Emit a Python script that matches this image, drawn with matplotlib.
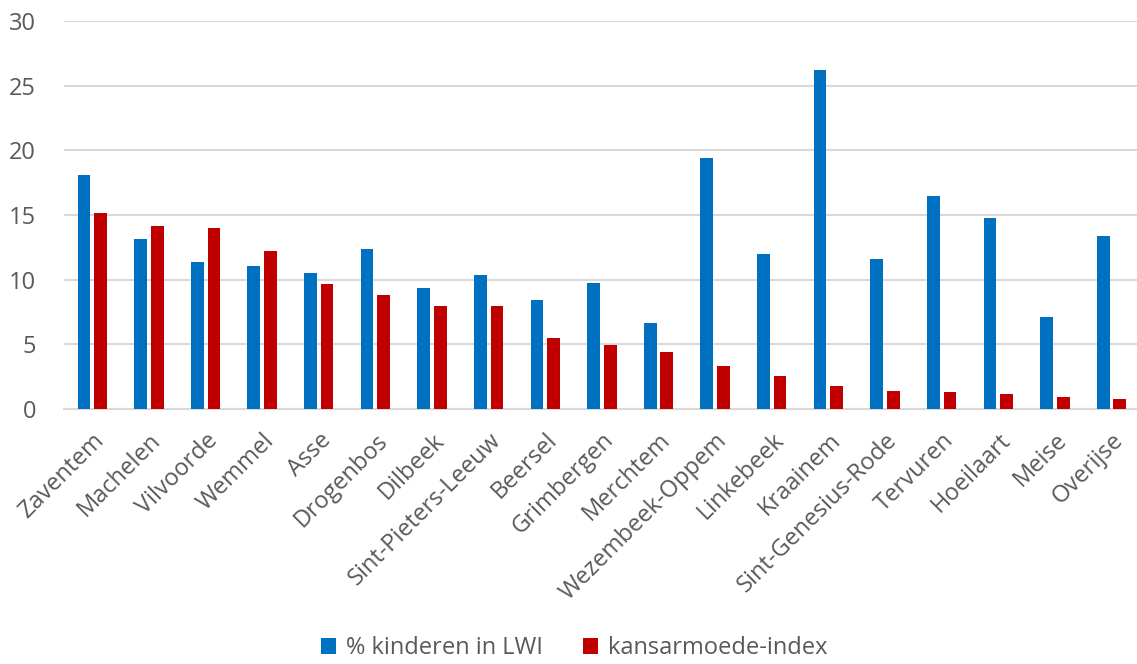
import matplotlib.pyplot as plt
import numpy as np

gemeenten = ["Zaventem", "Machelen", "Vilvoorde", "Wemmel", "Asse", "Drogenbos",
             "Dilbeek", "Sint-Pieters-Leeuw", "Beersel", "Grimbergen", "Merchtem",
             "Wezembeek-Oppem", "Linkebeek", "Kraainem", "Sint-Genesius-Rode",
             "Tervuren", "Hoeilaart", "Meise", "Overijse"]
pct_lwi = [18.07, 13.15, 11.39, 11.08, 10.52, 12.35, 9.32, 10.38, 8.39, 9.73,
           6.67, 19.43, 11.95, 26.24, 11.62, 16.5, 14.73, 7.08, 13.4]
kansarmoede = [15.16, 14.13, 14.02, 12.22, 9.67, 8.82, 8.0, 8.0, 5.48, 4.96,
               4.42, 3.36, 2.55, 1.81, 1.42, 1.34, 1.19, 0.96, 0.80]

plt.rcParams['font.family'] = ['Open Sans', 'DejaVu Sans']
grey = '#595959'

fig = plt.figure(figsize=(11.37, 6.64), dpi=100)
ax = fig.add_axes([64 / 1137, 1 - 409 / 664, 1 - 64 / 1137, (409 - 21) / 664])

x = np.arange(len(gemeenten))
w = 0.225
ax.bar(x - 0.147, pct_lwi, w, color='#0070c0', label='% kinderen in LWI', zorder=3)
ax.bar(x + 0.147, kansarmoede, w, color='#c00000', label='kansarmoede-index', zorder=3)

ax.set_ylim(0, 30)
ax.set_yticks(range(0, 31, 5))
ax.set_xlim(-0.5, len(gemeenten) - 0.55)
ax.set_xticks(x)
ax.set_xticklabels(gemeenten, rotation=45, ha='right', rotation_mode='anchor')
ax.grid(axis='y', color='#d9d9d9', linewidth=1.5, zorder=0)
for s in ['top', 'right', 'left']:
    ax.spines[s].set_visible(False)
ax.spines['bottom'].set_color('#d9d9d9')
ax.spines['bottom'].set_linewidth(1.5)
ax.tick_params(axis='both', length=0, labelsize=17, colors=grey)
ax.tick_params(axis='x', pad=14)
ax.tick_params(axis='y', pad=20)

fig.legend(loc='center', bbox_to_anchor=(0.505, 0.024), ncol=2, frameon=False,
           fontsize=17, labelcolor=grey, handlelength=0.65, handleheight=0.65,
           handletextpad=0.4, columnspacing=1.7)

plt.savefig("out.png", dpi=100)
